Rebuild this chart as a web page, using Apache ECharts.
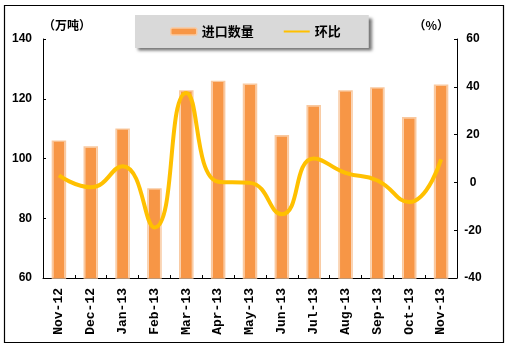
<!DOCTYPE html>
<html>
<head>
<meta charset="utf-8">
<script src="https://cdn.jsdelivr.net/npm/echarts@6/dist/echarts.min.js"></script>
<style>
html,body{margin:0;padding:0;background:#fff;}
#chart{width:508px;height:348px;}
</style>
</head>
<body>
<div id="chart"></div>
<script>
var categories = ['Nov-12','Dec-12','Jan-13','Feb-13','Mar-13','Apr-13','May-13','Jun-13','Jul-13','Aug-13','Sep-13','Oct-13','Nov-13'];
var importVolume = [105.6, 103.6, 109.6, 89.6, 122.4, 125.6, 124.6, 107.4, 117.4, 122.4, 123.4, 113.4, 124.3];
var momChange = [2.9, -2.0, 6.8, -18.9, 37.4, 0.3, -0.2, -13.3, 10.0, 4.0, 0.8, -8.2, 9.6];
var leftTicks = {min: 60, max: 140, interval: 20};
var rightTicks = {min: -40, max: 60, interval: 20};

var ORANGE = '#f79646', PEACH = '#f9c9a0', GOLD = '#ffc000';
var labelFont = {color: '#000', fontWeight: 'bold', fontSize: 12, fontFamily: 'Liberation Sans'};
var chart = echarts.init(document.getElementById('chart'), null, {renderer: 'canvas'});
var frameShift = 1.4 / 3;
chart.setOption({
  animation: false,
  backgroundColor: '#fff',
  graphic: [{
    type: 'rect', shape: {x: 4.5, y: 5.5, width: 499, height: 337},
    style: {fill: 'none', stroke: '#000', lineWidth: 1.2}, z: 0
  }],
  legend: {
    left: 135, top: 15,
    padding: [10, 28, 10, 35],
    itemGap: 30, itemWidth: 26, itemHeight: 7,
    backgroundColor: '#d9d9d9',
    shadowBlur: 3, shadowColor: 'rgba(0,0,0,0.55)', shadowOffsetX: 3, shadowOffsetY: 3,
    textStyle: {color: '#000', fontWeight: 'bold', fontSize: 13, fontFamily: 'Noto Sans CJK SC'},
    data: [
      {name: '进口数量', itemStyle: {color: ORANGE, borderColor: PEACH, borderWidth: 1.5}},
      {name: '环比', icon: 'path://M0,0 L26,0 L26,2 L0,2 Z', itemStyle: {color: GOLD}}
    ]
  },
  grid: {left: 43, right: 51, top: 39, bottom: 70},
  xAxis: [{
    type: 'category', data: categories, position: 'bottom',
    axisLine: {show: true, onZero: false, lineStyle: {color: '#000', width: 1}},
    axisTick: {show: true, inside: true, length: 3, lineStyle: {color: '#000'}},
    axisLabel: {rotate: 90, margin: 10, color: '#000', fontWeight: 'bold', fontSize: 13, fontFamily: 'Liberation Mono'},
    splitLine: {show: false}
  }, {
    type: 'category', data: categories, show: false,
    axisLine: {show: false, onZero: false}, axisTick: {show: false}, axisLabel: {show: false}
  }],
  yAxis: [{
    type: 'value', position: 'left', min: leftTicks.min, max: leftTicks.max, interval: leftTicks.interval,
    name: '（万吨）', nameLocation: 'end', nameGap: 8,
    nameTextStyle: {align: 'left', color: '#000', fontWeight: 'bold', fontSize: 12, fontFamily: 'Noto Sans CJK SC'},
    axisLine: {show: true, onZero: false, lineStyle: {color: '#000', width: 1}},
    axisTick: {show: true, inside: true, length: 3, lineStyle: {color: '#000'}},
    axisLabel: Object.assign({margin: 11}, labelFont),
    splitLine: {show: false}
  }, {
    type: 'value', position: 'right', min: rightTicks.min, max: rightTicks.max, interval: rightTicks.interval,
    name: '（%）', nameLocation: 'end', nameGap: 8,
    nameTextStyle: {align: 'right', padding: [0, 8, 0, 0], color: '#000', fontWeight: 'bold', fontSize: 12, fontFamily: 'Noto Sans CJK SC'},
    axisLine: {show: true, onZero: false, lineStyle: {color: '#000', width: 1}},
    axisTick: {show: true, inside: true, length: 3, lineStyle: {color: '#000'}},
    axisLabel: Object.assign({margin: 16, align: 'center'}, labelFont),
    splitLine: {show: false}
  }, {
    type: 'value', show: false, min: leftTicks.min - frameShift, max: leftTicks.max - frameShift,
    axisLine: {show: false, onZero: false}, axisTick: {show: false}, axisLabel: {show: false}, splitLine: {show: false}
  }],
  series: [{
    name: '进口数量框', type: 'bar', xAxisIndex: 0, yAxisIndex: 2, barWidth: 14.5,
    data: importVolume, silent: true,
    itemStyle: {color: '#fff', borderColor: PEACH, borderWidth: 1.5}
  }, {
    name: '进口数量', type: 'bar', xAxisIndex: 1, yAxisIndex: 0, barWidth: 11,
    data: importVolume,
    itemStyle: {color: ORANGE}
  }, {
    name: '环比', type: 'line', xAxisIndex: 0, yAxisIndex: 1,
    data: momChange, smooth: 0.5, symbol: 'none',
    lineStyle: {color: GOLD, width: 4}, itemStyle: {color: GOLD}
  }]
});
</script>
</body>
</html>
